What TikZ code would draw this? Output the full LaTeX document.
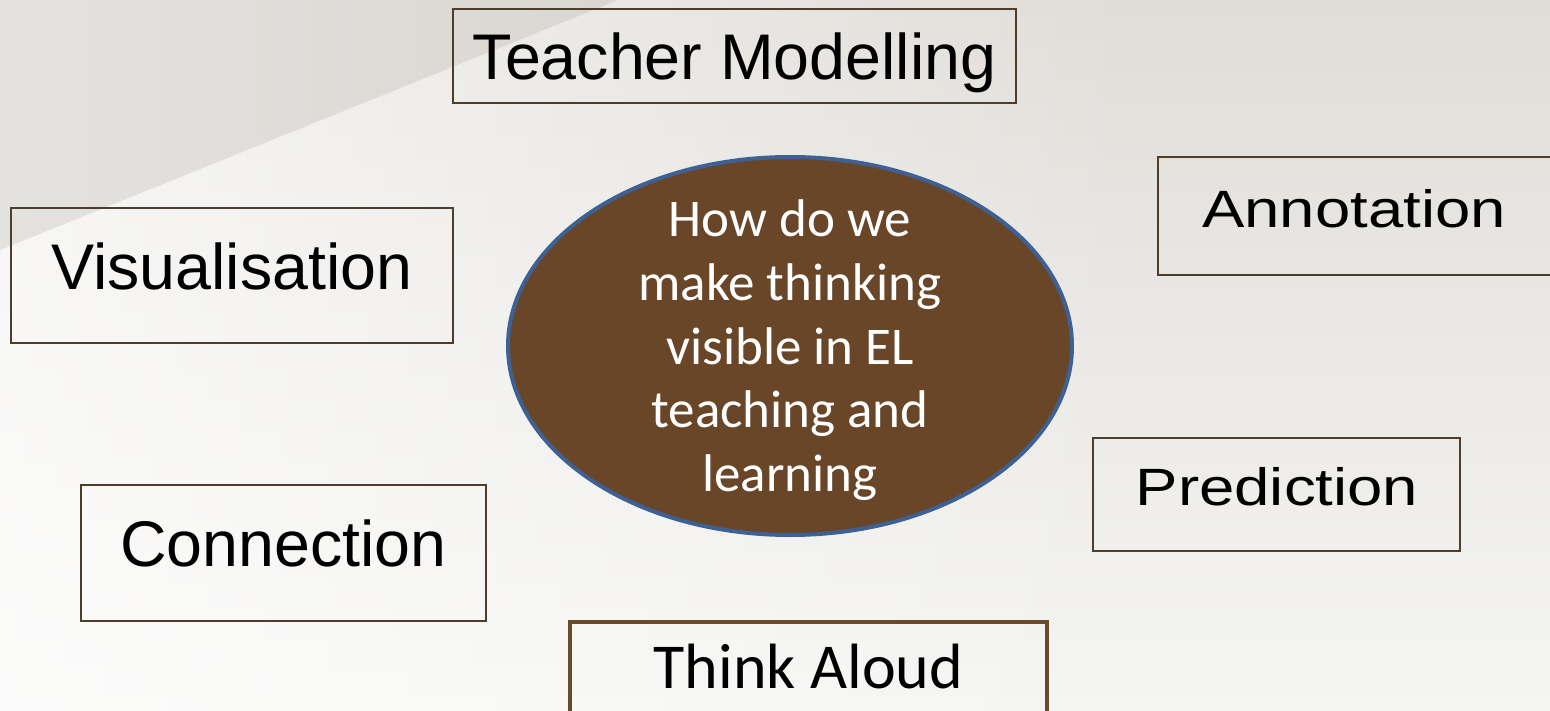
\documentclass[tikz,border=0pt]{standalone}
\usepackage{fontspec}
\usepackage{graphicx}
\usetikzlibrary{shapes.geometric,fadings}
\newfontfamily\arialf{Liberation Sans}
\newfontfamily\calf{Carlito}
\definecolor{bgtop}{HTML}{E0DDD8}
\definecolor{bgbot}{HTML}{F5F5F3}
\definecolor{wedgeL}{HTML}{E4E2DF}
\definecolor{wedgeR}{HTML}{DAD7D2}
\definecolor{boxline}{HTML}{4F3D2C}
\definecolor{thinkline}{HTML}{6B4A2A}
\definecolor{qfill}{HTML}{6A4628}
\definecolor{qline}{HTML}{3D6194}
\tikzset{
  x=1pt, y=-1pt,
  topicbox/.style={draw=boxline, line width=2pt, rectangle, inner sep=0pt},
  thinkbox/.style={draw=thinkline, line width=4pt, rectangle, inner sep=0pt},
  sanslabel/.style={anchor=base, inner sep=0pt, font=\arialf\fontsize{64.5}{64.5}\selectfont},
  widelabel/.style={anchor=base, inner sep=0pt, font=\arialf\fontsize{52.5}{52.5}\selectfont},
  callabel/.style={anchor=base, inner sep=0pt, font=\calf\fontsize{64}{64}\selectfont},
  qline/.style={anchor=base, inner sep=0pt, text=white, font=\calf\fontsize{53}{53}\selectfont},
}
\begin{document}
\begin{tikzpicture}
\useasboundingbox (0,0) rectangle (1550,711);
\clip (0,0) rectangle (1550,711);

% slide background: grey at the top, lighter towards the bottom
\shade[top color=bgtop, bottom color=bgbot] (0,0) rectangle (1550,711);
% bright sweep below the diagonal band, fading out to the right
\fill[white, opacity=0.7, path fading=east]
  (0,250) -- (618,0) -- (1150,0) -- (1150,711) -- (0,711) -- cycle;
% darker diagonal band in the upper left corner
\shade[left color=wedgeL, right color=wedgeR] (0,0) -- (618,0) -- (0,250) -- cycle;

% central question
\node[ellipse, fill=qfill, draw=qline, line width=4pt, inner sep=0pt,
      minimum width=564pt, minimum height=378pt] (question) at (790,346) {};
\node[qline] (q1) at (790,237) {How do we};
\node[qline] (q2) at (790,300.5) {make thinking};
\node[qline] (q3) at (790,364) {visible in EL};
\node[qline] (q4) at (790,427.5) {teaching and};
\node[qline] (q5) at (790,491) {learning};

% surrounding strategies
\node[topicbox, minimum width=563pt, minimum height=94pt] (teacher) at (734.5,56) {};
\node[sanslabel] (teacherT) at (734.5,80) {Teacher Modelling};

\node[topicbox, minimum width=442pt, minimum height=135pt] (visual) at (232,275.5) {};
\node[sanslabel] (visualT) at (232,290) {Visualisation};

\node[topicbox, minimum width=402pt, minimum height=118pt] (annot) at (1359,216) {};
\node[widelabel] (annotT) at (1354,227.5) {\scalebox{1.21}[1]{Annotation}};

\node[topicbox, minimum width=367pt, minimum height=113pt] (predict) at (1276.5,494.5) {};
\node[widelabel] (predictT) at (1277,505) {\scalebox{1.21}[1]{Prediction}};

\node[topicbox, minimum width=405pt, minimum height=136pt] (connect) at (283.5,553) {};
\node[sanslabel] (connectT) at (283.5,566) {Connection};

\node[thinkbox, minimum width=477pt, minimum height=118pt] (think) at (808.5,681) {};
\node[callabel] (thinkT) at (808.5,688) {Think Aloud};
\end{tikzpicture}
\end{document}
